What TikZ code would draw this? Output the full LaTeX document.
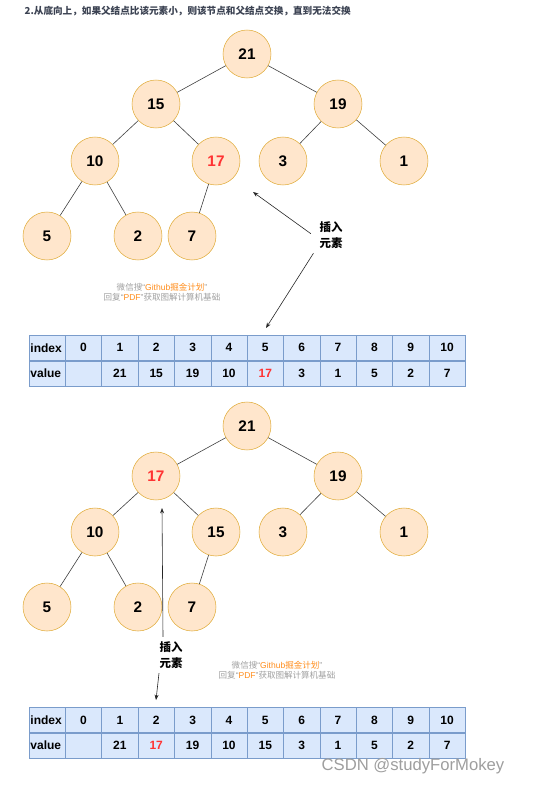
\documentclass[tikz,border=0pt]{standalone}
\usepackage{fontspec}
\setmainfont{Liberation Sans}
\newfontfamily\cjk{Noto Sans CJK SC}
\usepackage{tikz}
\usetikzlibrary{positioning,arrows.meta}
\definecolor{heapfill}{HTML}{FFE6CC}
\definecolor{heapline}{HTML}{E0AC3A}
\definecolor{cellfill}{HTML}{DAE8FC}
\definecolor{cellline}{HTML}{7A9CCB}
\definecolor{hotred}{HTML}{FF3333}
\definecolor{wmgray}{HTML}{A0A0A0}
\definecolor{wmorange}{HTML}{FF8C1A}
\definecolor{titleink}{HTML}{3B4252}
\tikzset{
  heapnode/.style={draw=heapline, fill=heapfill, circle, minimum size=36pt, inner sep=0pt, font=\fontsize{11.5}{12}\selectfont\bfseries},
  cell/.style={draw=cellline, fill=cellfill, anchor=north west, minimum width=27.27pt, minimum height=18.8pt, inner sep=0pt, font=\fontsize{9}{10}\selectfont\bfseries},
  headcell/.style={cell, text width=25pt, align=left, inner xsep=1.1pt},
  link/.style={draw=black!75, line width=0.45pt},
  arrow/.style={-{Stealth[length=4pt,width=3pt]}, draw=black!85, line width=0.45pt},
  tag/.style={align=center, font=\fontsize{8.6}{12}\selectfont\cjk\bfseries},
  wmark/.style={align=center, text=wmgray, font=\fontsize{6.4}{7.5}\selectfont}
}

\begin{document}
\begin{tikzpicture}[x=0.75pt, y=-0.75pt]
  \useasboundingbox (0,0) rectangle (538,785);

  \node[anchor=west, text=titleink, font=\fontsize{7.2}{9}\selectfont\cjk\bfseries] (title) at (20,11)
    {2.从底向上，如果父结点比该元素小，则该节点和父结点交换，直到无法交换};

  % first tree: 17 just inserted at index 5
  \node[heapnode] (a21) at (247,54) {21};
  \node[heapnode] (a15) at (156,104) {15};
  \node[heapnode] (a19) at (338,104) {19};
  \node[heapnode] (a10) at (95,161) {10};
  \node[heapnode, text=hotred] (a17) at (216,161) {17};
  \node[heapnode] (a3) at (283,161) {3};
  \node[heapnode] (a1) at (404,161) {1};
  \node[heapnode] (a5) at (47,236) {5};
  \node[heapnode] (a2) at (138,236) {2};
  \node[heapnode] (a7) at (192,236) {7};

  \draw[link] (a21) -- (a15);
  \draw[link] (a21) -- (a19);
  \draw[link] (a15) -- (a10);
  \draw[link] (a15) -- (a17);
  \draw[link] (a19) -- (a3);
  \draw[link] (a19) -- (a1);
  \draw[link] (a10) -- (a5);
  \draw[link] (a10) -- (a2);
  \draw[link] (a17) -- (a7);

  \node[tag] (taga) at (331,235) {插入\\元素};
  \coordinate (tipa) at (253,192);
  \coordinate (tipb) at (266,328);
  \draw[arrow] ([xshift=-3pt,yshift=1pt]taga.west) -- (tipa);
  \draw[arrow] ([xshift=-1pt]taga.south west) -- (tipb);

  \node[wmark] (marka) at (162,292)
    {{\cjk 微信搜}“\textcolor{wmorange}{Github{\cjk 掘金计划}}”\\{\cjk 回复}“\textcolor{wmorange}{PDF}”{\cjk 获取图解计算机基础}};

  \node[headcell] (ia) at (28.7,335) {index};
  \node[headcell] (va) at (28.7,360.7) {value};
  \foreach \v [count=\i] in {0,1,2,3,4,5,6,7,8,9,10}
    \node[cell] (ia\i) at (28.7+36.36*\i,335) {\v};
  \foreach \v [count=\i] in {{},21,15,19,10,{\textcolor{hotred}{17}},3,1,5,2,7}
    \node[cell] (va\i) at (28.7+36.36*\i,360.7) {\v};

  % second tree: 17 swapped with its parent 15
  \node[heapnode] (b21) at (247,426) {21};
  \node[heapnode, text=hotred] (b17) at (156,476) {17};
  \node[heapnode] (b19) at (338,476) {19};
  \node[heapnode] (b10) at (95,532) {10};
  \node[heapnode] (b15) at (216,532) {15};
  \node[heapnode] (b3) at (283,532) {3};
  \node[heapnode] (b1) at (404,532) {1};
  \node[heapnode] (b5) at (47,607) {5};
  \node[heapnode] (b2) at (138,607) {2};
  \node[heapnode] (b7) at (192,607) {7};

  \draw[link] (b21) -- (b17);
  \draw[link] (b21) -- (b19);
  \draw[link] (b17) -- (b10);
  \draw[link] (b17) -- (b15);
  \draw[link] (b19) -- (b3);
  \draw[link] (b19) -- (b1);
  \draw[link] (b10) -- (b5);
  \draw[link] (b10) -- (b2);
  \draw[link] (b15) -- (b7);

  \node[tag] (tagb) at (171,655) {插入\\元素};
  \coordinate (tipc) at (162,508);
  \coordinate (tipd) at (156,700);
  \draw[arrow] ([xshift=-6pt]tagb.north) -- (tipc);
  \draw[arrow] ([xshift=-9pt]tagb.south) -- (tipd);

  \node[wmark] (markb) at (277,670)
    {{\cjk 微信搜}“\textcolor{wmorange}{Github{\cjk 掘金计划}}”\\{\cjk 回复}“\textcolor{wmorange}{PDF}”{\cjk 获取图解计算机基础}};

  \node[headcell] (ib) at (28.7,707.3) {index};
  \node[headcell] (vb) at (28.7,732.7) {value};
  \foreach \v [count=\i] in {0,1,2,3,4,5,6,7,8,9,10}
    \node[cell] (ib\i) at (28.7+36.36*\i,707.3) {\v};
  \foreach \v [count=\i] in {{},21,{\textcolor{hotred}{17}},19,10,15,3,1,5,2,7}
    \node[cell] (vb\i) at (28.7+36.36*\i,732.7) {\v};

  \node[text=black!38, font=\fontsize{12.5}{14}\selectfont] (csdn) at (413,766) {CSDN @studyForMokey};
\end{tikzpicture}
\end{document}
